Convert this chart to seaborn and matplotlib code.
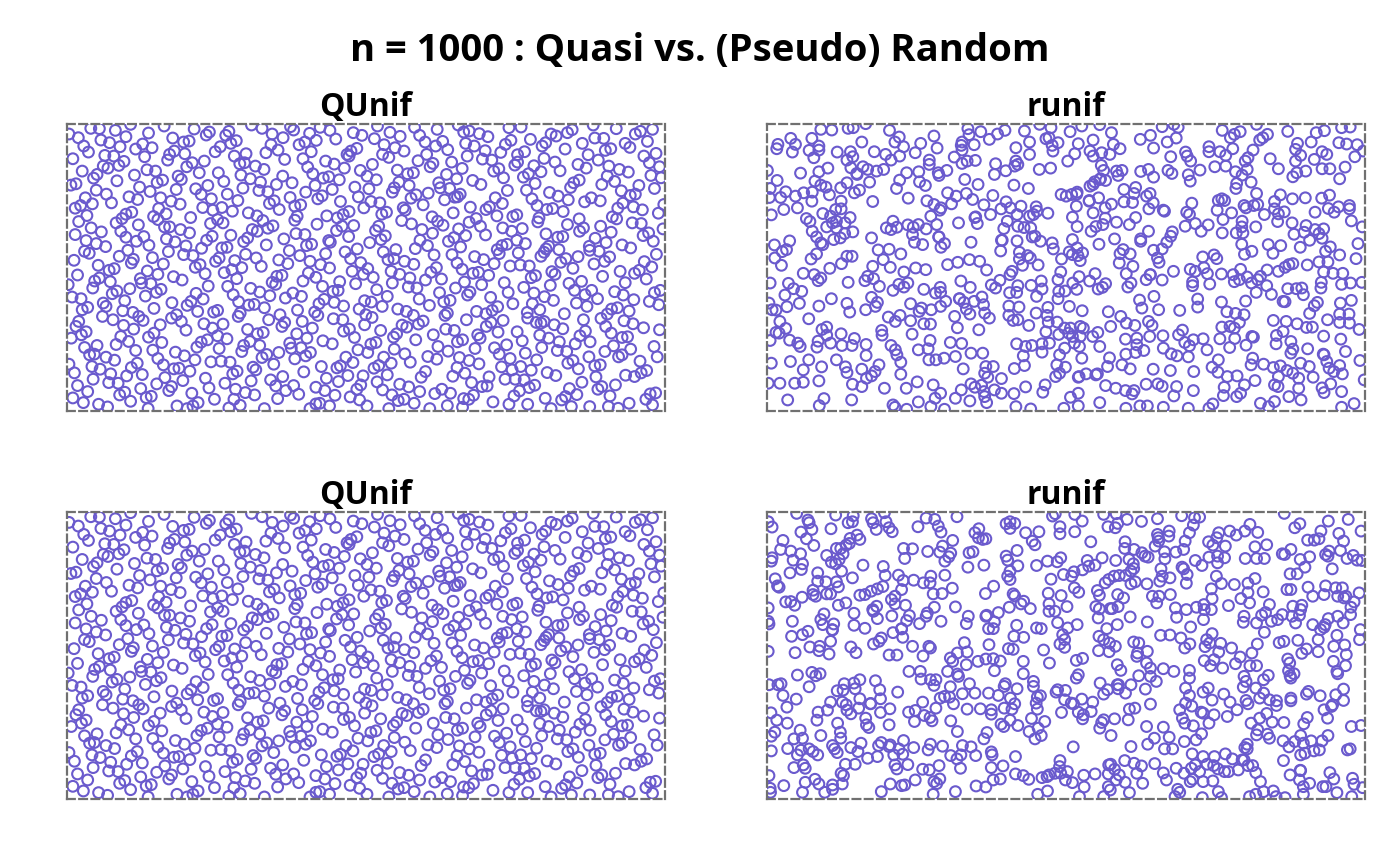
import pandas as pd
import matplotlib
matplotlib.use("Agg")
import matplotlib.pyplot as plt
import seaborn as sns

# Points, no axis scale is shown there,
# so values are in the read-off units (x 17..1550, y 14..872, y going down)
qunif_pts = [
(22,44),(46,55),(78,27),(100,28),(141,33),(168,52),(180,15),(226,41),(266,20),(288,56),(343,29),(382,38),(374,47),(432,36),(424,48),(490,17),(517,27),(543,44),(571,55),(598,32),(590,22),(639,42),(666,24),(691,33),(706,59),(751,40),(773,48),(813,20),(845,39),(871,51),(908,24),(921,48),(966,30),(1020,17),(1034,38),(1048,35),(1074,43),(1096,52),(1150,25),(1181,23),(1205,60),(1258,44),(1271,50),(1300,40),(1312,31),(1366,17),(1370,56),(1393,57),(1425,28),(1474,44),(1487,36),(1518,30),
(60,80),(72,98),(104,62),(126,70),(153,82),(114,108),(137,110),(193,89),(211,74),(235,85),(216,112),(292,95),(280,105),(319,103),(316,68),(330,65),(397,97),(410,82),(437,72),(451,64),(446,110),(476,103),(527,100),(540,76),(558,92),(612,76),(627,68),(656,63),(643,97),(622,118),(740,110),(745,95),(760,87),(735,105),(805,58),(830,76),(858,85),(881,95),(826,105),(842,114),(939,105),(935,68),(962,80),(980,66),(993,91),(1039,72),(1061,80),(1043,110),(1089,94),(1082,119),(1106,122),(1129,99),(1141,75),(1155,63),(1172,106),(1190,97),(1235,80),(1244,70),(1294,89),(1240,117),(1338,72),(1353,106),(1397,93),(1411,88),(1379,122),(1448,72),(1460,84),(1505,66),(1496,110),(1527,102),
(32,118),(56,155),(110,140),(122,146),(150,138),(163,126),(94,165),(222,151),(244,155),(190,167),(275,122),(338,130),(324,142),(369,125),(356,160),(405,160),(460,133),(472,130),(500,140),(522,150),(575,120),(634,143),(647,163),(680,125),(702,134),(728,146),(769,153),(800,135),(786,170),(864,152),(890,163),(905,160),(917,124),(955,132),(948,142),(1003,128),(1030,147),(990,165),(1111,155),(1124,148),(1165,137),(1172,128),(1214,139),(1200,163),(1232,157),(1268,128),(1281,154),(1327,135),(1348,146),(1406,140),(1433,150),(1456,158),(1510,130),(1536,142),
(85,176),(40,193),(27,197),(145,184),(92,212),(118,224),(203,203),(230,216),(248,189),(262,182),(302,170),(310,180),(297,210),(347,208),(378,198),(361,225),(419,186),(428,224),(463,167),(487,178),(513,188),(468,206),(509,213),(532,217),(554,195),(570,170),(594,190),(629,218),(653,198),(674,176),(688,172),(715,181),(697,210),(755,203),(791,208),(810,181),(764,232),(851,218),(856,205),(868,188),(894,198),(912,226),(943,221),(970,190),(974,205),(998,207),(1016,178),(1025,224),(1011,233),(1057,183),(1078,195),(1136,175),(1146,213),(1187,173),(1195,212),(1217,192),(1254,219),(1276,230),(1308,204),(1316,190),(1330,182),(1388,195),(1402,170),(1421,186),(1438,214),(1483,198),(1514,168),(1523,207),(1540,175),
(64,235),(52,258),(38,266),(82,253),(131,250),(176,232),(198,240),(257,235),(284,245),(307,254),(252,267),(183,278),(168,284),(158,297),(239,291),(271,283),(334,294),(365,264),(387,238),(391,272),(414,264),(441,275),(455,243),(482,280),(504,289),(536,252),(548,244),(561,270),(589,234),(601,260),(616,256),(607,290),(660,238),(671,229),(718,246),(683,289),(740,276),(725,285),(710,295),(778,265),(796,246),(819,250),(836,278),(824,284),(879,265),(884,272),(899,236),(930,256),(985,241),(1007,280),(1018,232),(1051,263),(1100,262),(1091,270),(1115,235),(1133,252),(1119,289),(1160,291),(1170,286),(1209,238),(1222,258),(1247,270),(1262,267),(1289,276),(1302,241),(1344,247),(1361,235),(1384,244),(1429,266),(1442,251),(1469,262),(1461,228),(1474,224),(1492,271),(1533,281),(1547,255),
(68,288),(47,306),(79,325),(105,337),(38,345),(143,310),(155,335),(200,316),(214,351),(250,300),(267,322),(280,322),(308,330),(331,340),(385,312),(403,300),(417,310),(437,347),(492,330),(505,335),(519,303),(532,326),(545,319),(601,302),(658,314),(604,342),(627,345),(708,333),(722,320),(752,318),(739,351),(808,333),(816,320),(833,349),(875,303),(900,313),(927,330),(953,292),(967,305),(981,317),(1021,328),(1048,308),(1066,297),(1077,320),(1090,346),(954,341),(1134,325),(1157,335),(1184,327),(1227,295),(1224,307),(1245,343),(1300,315),(1330,298),(1331,335),(1341,325),(1385,320),(1415,292),(1426,298),(1412,338),(1466,310),(1489,312),(1494,348),(1508,340),(1545,328),
(66,363),(92,372),(116,381),(62,395),(74,401),(168,353),(195,365),(227,377),(173,392),(151,410),(272,358),(294,367),(277,396),(322,379),(316,405),(340,408),(375,362),(389,350),(362,386),(414,385),(427,383),(407,415),(470,366),(480,355),(528,376),(573,358),(587,393),(614,408),(631,378),(644,374),(688,363),(692,368),(680,402),(730,397),(761,388),(744,417),(793,369),(822,360),(828,397),(860,390),(910,387),(922,362),(941,378),(958,406),(995,365),(1009,354),(1039,348),(1026,382),(1004,405),(1062,411),(1120,390),(1132,378),(1145,374),(1125,402),(1170,362),(1192,372),(1174,400),(1252,380),(1245,388),(1232,410),(1240,398),(1275,353),(1288,351),(1278,390),(1327,411),(1356,380),(1357,392),(1371,356),(1399,369),(1381,395),(1408,412),(1440,376),(1462,385),(1520,365),(1528,404),
(35,422),(97,437),(44,466),(125,452),(138,447),(100,475),(187,419),(182,430),(236,414),(264,433),(223,454),(250,464),(205,477),(290,471),(346,443),(358,435),(371,462),(398,425),(440,450),(447,423),(465,444),(420,459),(475,404),(502,415),(515,440),(560,421),(583,432),(568,467),(555,470),(636,460),(640,425),(667,435),(690,445),(655,473),(748,455),(770,429),(788,447),(777,464),(802,473),(848,455),(840,420),(855,417),(882,425),(906,434),(870,464),(896,475),(950,458),(964,444),(977,478),(1017,430),(1030,449),(1058,461),(1072,458),(1098,467),(1085,420),(1112,432),(1153,439),(1179,436),(1202,439),(1218,468),(1207,474),(1260,456),(1268,464),(1283,428),(1296,417),(1314,446),(1368,433),(1395,425),(1390,470),(1435,455),(1472,461),(1484,452),(1497,426),(1516,442),
(20,495),(88,484),(83,505),(128,486),(208,490),(232,492),(312,481),(379,499),(178,507),(145,514),(133,522),(246,518),(258,509),(218,529),(348,521),(452,477),(429,500),(443,525),(488,506),(511,517),(537,528),(543,488),(552,494),(622,484),(596,520),(618,530),(672,500),(699,515),(712,512),(716,486),(757,492),(811,510),(838,530),(851,490),(892,502),(914,505),(936,481),(972,519),(1013,505),(1036,487),(1080,495),(1050,517),(1044,526),(1138,489),(1148,518),(1188,503),(1214,520),(1256,497),(1304,491),(1318,512),(1336,485),(1345,525),(1362,512),(1421,516),(1448,489),(1443,526),(1502,478),(1510,545),(1523,519),(1538,512),
(30,532),(53,537),(110,550),(117,560),(70,563),(56,570),(165,543),(160,573),(186,578),(201,590),(240,566),(286,549),(325,557),(335,545),(366,538),(352,575),(393,577),(403,572),(457,546),(483,556),(497,554),(523,564),(461,580),(456,590),(577,535),(563,585),(608,571),(652,577),(660,587),(663,552),(676,539),(702,548),(726,559),(766,568),(780,543),(797,547),(825,560),(783,585),(799,593),(865,568),(887,575),(905,587),(920,538),(946,557),(983,546),(999,542),(992,580),(986,587),(1103,533),(1067,575),(1091,582),(1107,572),(1121,561),(1160,552),(1197,578),(1210,552),(1229,570),(1241,531),(1264,542),(1292,582),(1323,550),(1350,560),(1377,537),(1413,568),(1428,564),(1402,583),(1458,574),(1470,540),(1534,555),
(108,590),(135,600),(47,605),(40,620),(66,636),(28,655),(54,645),(162,617),(188,628),(212,602),(256,615),(240,640),(226,652),(285,595),(298,585),(310,605),(322,631),(368,612),(390,625),(417,613),(403,648),(427,657),(480,629),(505,642),(520,638),(534,600),(568,620),(575,608),(620,605),(606,642),(632,655),(646,625),(700,597),(724,600),(726,634),(741,628),(754,653),(780,615),(821,632),(854,652),(862,642),(876,616),(888,622),(918,613),(930,604),(911,660),(956,645),(988,628),(1010,632),(1041,600),(1070,645),(1076,655),(1092,620),(1104,608),(1135,602),(1122,637),(1171,636),(1198,595),(1220,608),(1232,610),(1240,605),(1229,646),(1252,655),(1266,615),(1288,627),(1341,600),(1346,634),(1332,648),(1386,596),(1398,620),(1412,640),(1445,603),(1468,612),(1495,624),(1536,630),(1440,653),(1454,651),
(155,650),(175,665),(143,674),(94,677),(62,683),(75,705),(87,703),(193,692),(260,668),(237,691),(295,697),(318,708),(350,682),(361,667),(377,660),(407,686),(470,677),(486,665),(511,677),(465,695),(560,698),(588,670),(592,685),(617,684),(641,698),(629,708),(673,663),(697,672),(763,690),(788,698),(796,673),(809,668),(856,688),(883,702),(968,680),(994,694),(1018,666),(1031,660),(1063,686),(1113,684),(1125,703),(1144,675),(1184,663),(1192,700),(1234,683),(1274,692),(1279,666),(1298,695),(1320,672),(1358,666),(1396,695),(1418,678),(1462,688),(1522,680),
(117,712),(139,721),(81,740),(102,748),(197,730),(182,743),(250,716),(264,735),(291,747),(304,745),(345,720),(332,754),(386,726),(412,724),(435,727),(442,762),(453,754),(494,742),(501,750),(517,713),(529,704),(547,733),(601,717),(624,756),(669,740),(709,744),(718,738),(732,712),(750,728),(804,745),(816,737),(829,712),(848,730),(897,727),(942,710),(965,718),(936,755),(925,772),(1017,743),(1023,713),(1048,722),(1073,732),(1037,760),(1131,741),(1153,716),(1158,750),(1180,740),(1207,751),(1221,720),(1248,758),(1301,730),(1314,722),(1328,747),(1355,711),(1370,738),(1384,735),(1431,711),(1440,705),(1486,724),(1530,711),(1503,752),(1489,759),(1472,770),
(36,759),(22,733),(84,778),(129,762),(124,788),(148,790),(170,768),(210,764),(44,797),(70,815),(32,834),(59,848),(98,853),(121,861),(206,806),(247,792),(268,773),(285,800),(278,812),(314,782),(372,775),(381,804),(422,790),(489,783),(539,780),(570,770),(552,798),(598,797),(449,808),(337,820),(395,838),(152,825),(165,817),(180,844),(220,833),(233,829),(225,866),(299,858),(353,848),(340,858),(325,866),(445,838),(474,818),(498,825),(461,856),(432,864),(523,866),(557,836),(578,812),(611,823),(655,802),(678,812),(704,826),(682,775),(713,785),(737,767),(776,768),(770,795),(760,808),(743,831),(767,840),(786,858),(812,786),(826,810),(838,765),(870,793),(893,801),(921,815),(850,825),(866,842),(881,838),(907,850),(842,866),(947,866),(960,821),(978,808),(1000,820),(1006,769),(1054,788),(1034,836),(1059,826),(1047,838),(1081,800),(1094,798),(1099,771),(1109,846),(1031,862),(992,857),(1140,778),(1166,778),(1189,780),(1216,796),(1202,803),(1177,813),(1163,828),(1150,853),(1198,853),(1243,835),(1270,767),(1305,806),(1324,824),(1295,830),(1285,840),(1337,787),(1373,771),(1388,800),(1378,808),(1423,795),(1449,766),(1409,828),(1458,850),(1512,822),(1526,819),(1501,838),(1518,855),(1405,860),(1430,865),(1357,860),(1310,860),(1258,866),(640,866),(655,852),(665,850),(690,858),
]

runif_top_pts = [
(155,30),(183,32),(225,27),(238,25),(270,13),(331,33),(356,53),(445,50),(532,28),(535,46),(565,37),(608,44),(627,33),(677,35),(716,15),(745,25),(740,55),(732,58),(794,37),(824,20),(870,16),(900,40),(1000,48),(974,60),(1030,22),(1060,15),(1071,24),(1066,56),(1184,33),(1230,37),(1215,45),(1205,55),(1272,15),(1300,45),(1288,55),(1352,36),(1425,40),(1446,34),(1490,25),(1512,23),(78,57),(132,57),(45,75),
(42,88),(90,75),(150,80),(125,93),(150,92),(82,98),(137,115),(197,98),(231,97),(260,68),(345,68),(367,82),(292,97),(321,105),(237,112),(222,122),(357,110),(335,122),(411,72),(397,100),(453,86),(517,68),(515,78),(517,92),(497,113),(548,76),(587,60),(655,85),(690,68),(690,105),(750,95),(763,70),(748,78),(815,73),(806,103),(788,125),(853,62),(845,95),(853,110),(875,100),(896,105),(905,75),(922,88),(1008,86),(1043,68),(1052,112),(1090,98),(1094,110),(1103,125),(1150,82),(1150,97),(1178,97),(1193,108),(1211,88),(1263,92),(1250,115),(1243,125),(1280,62),(1307,118),(1377,72),(1372,90),(1385,108),(1372,125),(1412,68),(1420,120),(1440,97),(1452,105),(1483,70),(1503,74),(1530,76),(1524,112),(1546,95),
(18,153),(103,161),(150,157),(173,146),(43,183),(140,185),(232,145),(247,162),(263,142),(275,150),(298,155),(316,150),(375,160),(406,157),(433,122),(433,135),(456,160),(458,168),(478,153),(517,132),(530,125),(551,123),(603,133),(600,165),(629,154),(655,125),(652,140),(660,135),(715,150),(744,146),(874,138),(880,153),(872,178),(857,187),(913,155),(927,153),(917,168),(975,156),(995,150),(1045,153),(1055,162),(1008,173),(1097,166),(1127,152),(1102,185),(1165,142),(1193,140),(1218,157),(1235,167),(1248,150),(1258,188),(1328,148),(1365,172),(1375,160),(1398,155),(1440,148),(1460,148),(1499,143),(1485,178),(524,180),(357,182),(280,188),(248,165),
(25,207),(65,217),(52,234),(90,230),(111,220),(133,218),(155,197),(168,203),(177,226),(206,205),(222,190),(241,220),(254,212),(23,234),(349,207),(379,236),(408,187),(423,198),(480,220),(502,230),(528,222),(544,240),(558,195),(596,228),(650,197),(687,207),(630,247),(771,225),(784,230),(798,225),(812,218),(811,224),(845,200),(853,195),(870,180),(885,183),(932,210),(962,204),(990,230),(999,222),(843,243),(867,235),(958,222),(1219,207),(1221,192),(1272,222),(1183,238),(1190,243),(1333,226),(1318,246),(1364,238),(1397,235),(1439,236),(1459,227),(1174,243),(132,245),(207,245),(288,246),(427,244),(445,255),
(60,270),(95,265),(28,286),(160,282),(193,270),(207,268),(180,290),(118,297),(230,294),(195,305),(340,305),(437,290),(463,265),(460,272),(490,253),(573,256),(590,285),(550,294),(617,268),(641,265),(668,260),(658,285),(707,262),(709,275),(690,290),(700,285),(737,281),(633,305),(810,260),(800,293),(843,245),(853,280),(884,265),(900,254),(884,296),(932,247),(954,249),(996,268),(1007,250),(1033,272),(1036,275),(962,294),(1093,278),(1100,285),(1106,251),(1171,272),(1208,280),(1186,300),(1240,258),(1245,265),(1265,258),(1275,255),(1292,285),(1318,268),(1328,283),(1343,277),(1422,278),(1456,267),(1471,278),(1482,262),(1510,268),(1510,258),(1235,305),
(127,306),(133,335),(144,352),(170,322),(185,310),(195,325),(217,310),(216,342),(237,337),(188,360),(205,355),(285,355),(323,325),(335,330),(350,323),(378,316),(392,323),(405,315),(390,345),(425,328),(452,315),(508,310),(552,292),(556,312),(457,352),(624,327),(620,362),(660,320),(676,324),(693,325),(704,350),(697,352),(812,321),(848,335),(860,321),(878,315),(913,308),(946,315),(995,335),(1056,337),(1052,350),(1089,320),(1115,312),(1130,335),(1148,316),(1184,340),(1234,322),(1270,322),(1220,340),(1237,340),(1326,306),(1363,310),(1399,318),(1368,344),(1394,338),(1432,342),(1444,328),(1515,304),(1543,322),(1422,330),
(36,376),(75,364),(67,390),(56,396),(144,403),(155,370),(160,375),(37,415),(130,418),(222,410),(235,410),(302,391),(330,389),(360,403),(458,352),(395,368),(416,375),(463,383),(472,372),(540,368),(618,362),(658,364),(616,394),(664,398),(718,365),(748,370),(751,388),(685,408),(692,415),(772,418),(792,397),(800,360),(812,385),(826,400),(800,405),(814,408),(868,374),(908,358),(975,365),(1030,388),(1042,368),(1008,392),(930,390),(922,402),(948,403),(1134,412),(1163,406),(1241,404),(1234,374),(1260,395),(1302,375),(1334,378),(1314,401),(1384,383),(1408,362),(1440,356),(1461,382),(1449,395),(1485,406),(1532,372),(1527,417),(975,358),
(54,437),(208,432),(178,446),(288,440),(315,420),(333,443),(368,457),(398,445),(424,450),(480,435),(506,428),(536,420),(562,425),(580,451),(640,465),(645,455),(672,437),(712,436),(664,418),(770,457),(820,423),(920,430),(955,440),(938,462),(1022,428),(1018,415),(1059,455),(1000,465),(1102,449),(1115,455),(1137,444),(1146,462),(1182,463),(1170,417),(1231,449),(1212,465),(1248,472),(1299,451),(1282,470),(1275,480),(1328,455),(1345,443),(1355,435),(1365,432),(1402,436),(1432,427),(1455,427),(1444,457),(1468,461),(1493,461),(110,461),(138,465),(155,475),(148,483),(72,491),(275,470),(268,483),(290,477),
(25,490),(85,507),(106,515),(63,526),(182,537),(225,488),(305,500),(378,490),(355,494),(368,502),(340,512),(285,533),(419,509),(449,520),(462,518),(461,503),(514,484),(538,503),(510,537),(568,532),(592,496),(603,505),(614,482),(660,498),(694,497),(720,484),(722,508),(639,519),(657,518),(708,530),(763,480),(801,490),(817,471),(844,484),(858,462),(811,509),(866,508),(877,503),(885,492),(942,502),(950,490),(989,480),(999,465),(1030,481),(1009,530),(1108,498),(1108,487),(1152,493),(1215,486),(1228,480),(1259,490),(1271,518),(1298,498),(1310,524),(1352,507),(1374,507),(1388,505),(1392,525),(1437,505),(1438,488),(1490,494),(1513,490),(1542,488),(765,515),(781,514),(763,537),
(22,550),(30,570),(40,571),(68,561),(100,551),(150,559),(222,551),(229,577),(270,570),(300,548),(295,560),(385,552),(413,565),(407,575),(438,570),(462,560),(475,545),(511,537),(522,548),(548,545),(572,555),(528,568),(575,580),(637,559),(663,562),(707,580),(737,563),(735,587),(792,560),(825,573),(892,576),(924,590),(972,541),(978,565),(1021,570),(1075,572),(1121,538),(1121,562),(1182,547),(1196,576),(1218,581),(1240,585),(1244,544),(1340,545),(1345,546),(1420,558),(1428,548),(1408,581),(1487,550),(1515,542),(1485,583),(1509,583),(124,597),(50,605),(358,587),(328,592),(346,605),(385,603),(498,590),(537,583),(587,595),(637,587),(648,602),(660,600),
(65,626),(40,638),(48,640),(25,662),(158,629),(170,622),(207,642),(170,646),(311,632),(312,646),(389,643),(419,612),(436,613),(505,624),(560,630),(688,617),(738,607),(761,607),(732,636),(780,625),(795,625),(820,620),(828,625),(765,644),(790,640),(800,650),(820,650),(865,638),(852,650),(898,620),(938,610),(960,617),(995,605),(1004,617),(998,650),(1032,648),(1082,631),(1072,645),(1183,622),(1204,620),(1215,625),(1228,608),(1264,652),(1315,602),(1323,647),(1348,605),(1376,612),(1400,623),(1415,622),(1454,600),(1485,608),(1510,610),(1535,629),(1444,649),(1488,658),(1340,635),
(75,661),(96,670),(102,680),(148,664),(145,682),(180,670),(209,677),(235,677),(241,656),(271,674),(271,707),(335,677),(346,690),(350,705),(405,690),(430,687),(435,662),(487,668),(516,671),(500,710),(540,700),(570,700),(657,672),(680,680),(696,677),(722,672),(741,670),(722,697),(780,685),(805,670),(818,680),(870,680),(936,658),(965,655),(965,675),(937,703),(962,698),(983,692),(1033,685),(1053,702),(1088,668),(1100,678),(1110,660),(1135,657),(1145,690),(1178,657),(1203,683),(1216,656),(1245,676),(1260,650),(1322,672),(1360,665),(1365,688),(1403,687),(1443,703),(1500,695),(767,705),(1068,708),(1097,711),(1360,700),
(28,730),(77,725),(124,720),(110,750),(157,741),(195,720),(218,741),(222,758),(260,748),(304,735),(294,755),(285,768),(272,775),(360,727),(432,720),(450,720),(471,715),(360,763),(520,747),(578,740),(597,740),(575,760),(583,772),(651,746),(677,737),(674,708),(824,715),(760,735),(782,742),(767,760),(757,770),(817,770),(835,762),(860,765),(864,762),(895,714),(890,740),(927,735),(948,747),(1007,748),(1051,752),(1111,755),(1158,742),(1174,720),(1173,757),(1197,770),(1222,768),(1262,715),(1258,735),(1290,733),(1315,743),(1333,738),(1350,752),(1328,770),(1365,760),(1385,730),(1407,740),(1417,772),(1445,705),(1452,725),(1485,737),(1470,755),(1492,762),(1537,722),(1458,745),(1380,775),
(20,790),(50,790),(88,790),(110,787),(150,783),(236,793),(260,800),(318,805),(374,805),(402,786),(443,795),(515,810),(540,792),(550,802),(567,796),(573,815),(600,810),(618,776),(618,820),(650,821),(680,801),(724,817),(730,795),(815,772),(885,797),(911,805),(936,812),(958,812),(953,822),(989,793),(1019,792),(1030,799),(1067,800),(1060,828),(1110,812),(1189,802),(1187,827),(1221,830),(1231,820),(1241,795),(1268,782),(1318,795),(1327,800),(1355,830),(1380,805),(1386,840),(1440,804),(1445,818),(1462,792),(1490,815),(1548,780),(70,840),(163,836),(151,857),(234,840),(340,855),(345,862),(375,868),(405,846),(437,860),(472,868),(462,820),(448,835),(500,835),(537,843),(580,848),(655,860),(693,867),(778,865),(795,832),(815,820),(815,858),(870,848),(937,865),(973,858),(992,858),(1033,862),(1097,865),(1150,865),(1160,852),(1282,850),(1303,860),(1318,845),(1490,862),(1522,851),(575,830),
]

runif_bottom_pts = [
(93,17),(122,37),(125,45),(132,65),(193,22),(181,63),(225,45),(236,42),(238,24),(285,33),(289,45),(297,65),(318,15),(322,42),(330,60),(338,72),(30,58),(20,42),(404,57),(425,31),(447,35),(456,55),(463,73),(504,27),(560,63),(550,75),(630,48),(640,42),(652,47),(640,62),(749,25),(768,57),(756,18),(806,20),(825,40),(806,72),(768,78),(714,72),(680,75),(880,20),(891,57),(912,18),(916,47),(910,60),(940,35),(977,41),(1018,33),(1048,70),(1080,24),(1113,30),(1126,28),(1110,52),(1100,75),(1203,70),(1242,70),(1255,50),(1275,74),(1343,17),(1370,60),(1383,48),(1437,70),(1456,40),(1507,35),(1540,70),(1483,77),
(104,73),(118,93),(58,98),(137,113),(52,125),(78,130),(255,95),(230,92),(228,107),(248,82),(195,122),(206,122),(220,112),(367,122),(390,123),(429,131),(460,133),(467,115),(493,98),(488,136),(559,90),(570,95),(578,93),(697,100),(704,111),(847,102),(935,102),(934,122),(958,125),(1018,80),(1020,90),(1012,115),(1047,85),(1021,100),(1089,100),(1085,125),(1065,133),(1149,102),(1160,112),(1175,75),(1170,90),(1192,115),(1220,82),(1268,117),(1298,111),(1403,97),(1420,97),(1432,93),(1495,100),(1360,125),(1487,128),
(30,150),(28,160),(103,138),(84,157),(108,168),(105,185),(76,195),(170,143),(182,163),(193,168),(212,138),(202,155),(263,172),(370,152),(315,176),(473,160),(483,147),(545,132),(535,135),(532,178),(573,172),(630,145),(634,157),(658,128),(660,174),(640,190),(708,173),(736,160),(761,162),(770,150),(838,158),(826,186),(842,175),(858,172),(876,150),(911,158),(945,155),(956,168),(978,135),(986,145),(994,148),(1036,132),(1037,153),(1027,183),(1081,178),(1085,183),(1115,158),(1132,173),(1150,148),(1172,145),(1172,165),(1190,150),(1243,152),(1272,152),(1292,152),(1338,138),(1344,140),(1384,155),(1408,147),(1396,178),(1449,140),(1455,145),(1466,183),(1504,152),(1520,143),(1530,157),(1542,158),(1458,130),
(147,195),(38,213),(44,234),(48,238),(147,220),(168,222),(195,222),(200,237),(208,190),(236,210),(320,203),(314,236),(354,202),(366,218),(393,217),(418,225),(437,205),(435,225),(473,202),(492,241),(598,235),(634,205),(640,215),(745,214),(777,200),(798,205),(804,192),(805,240),(884,225),(893,215),(907,205),(920,203),(936,203),(950,228),(961,222),(950,190),(957,182),(991,228),(1024,220),(1030,205),(1050,210),(1092,226),(1094,200),(1169,205),(1182,227),(1215,230),(1268,212),(1250,226),(1358,198),(1376,198),(1404,238),(1449,234),(1475,240),(1492,240),(1156,243),(1250,254),(1350,245),(1360,245),
(135,247),(135,260),(142,265),(180,258),(170,258),(107,268),(65,282),(78,281),(88,292),(255,262),(268,260),(284,250),(300,243),(362,245),(336,275),(345,265),(345,288),(372,292),(443,258),(466,257),(577,257),(500,297),(446,298),(648,258),(652,264),(675,280),(668,288),(692,302),(738,256),(771,263),(740,288),(786,296),(816,253),(869,262),(864,248),(916,260),(931,270),(860,296),(869,303),(897,302),(917,296),(1005,265),(1022,265),(1016,285),(1051,260),(1064,300),(1092,305),(1118,298),(1137,290),(1138,305),(1156,305),(1158,272),(1200,293),(1232,272),(1254,285),(1289,252),(1305,290),(1416,265),(1445,260),(1480,265),(1496,270),(1501,265),(1522,282),(1535,255),(1365,295),(1388,292),(1514,298),(200,292),(219,285),(298,295),(288,305),(638,298),(20,300),
(163,318),(155,335),(160,350),(188,348),(184,365),(240,316),(240,352),(290,310),(300,332),(337,324),(382,323),(375,338),(362,362),(408,347),(428,315),(425,325),(463,340),(528,347),(533,325),(580,322),(578,325),(610,314),(600,342),(585,362),(597,362),(740,310),(755,310),(762,344),(812,350),(788,360),(866,330),(902,302),(915,350),(948,327),(992,342),(1067,328),(1103,357),(1136,335),(1240,325),(1238,343),(1272,345),(1285,322),(1295,314),(1310,340),(1326,335),(1338,320),(1363,325),(1385,305),(1382,322),(1372,345),(1416,350),(1448,350),(1456,332),(1480,325),(1494,345),(1513,320),(1538,365),(82,340),(22,348),(657,352),(20,340),
(122,370),(108,380),(80,385),(185,366),(180,400),(268,361),(340,374),(362,363),(365,388),(310,390),(304,400),(290,408),(127,417),(152,415),(232,417),(390,415),(432,415),(523,404),(586,410),(650,385),(675,388),(708,360),(720,362),(775,380),(780,395),(768,408),(780,418),(888,362),(868,385),(880,395),(895,405),(910,415),(957,402),(970,405),(1026,382),(1050,381),(1078,390),(1101,408),(1088,420),(1158,377),(1144,395),(1152,405),(1140,416),(1180,406),(1208,420),(1274,408),(1292,373),(1330,404),(1342,400),(1378,397),(1430,395),(1436,365),(1445,358),(1478,382),(1470,415),(1498,411),(1536,395),(1260,435),(1400,423),
(20,430),(89,434),(150,428),(176,438),(245,434),(330,441),(350,441),(417,444),(436,420),(487,450),(493,460),(505,435),(530,432),(528,470),(558,460),(578,453),(597,452),(615,459),(636,422),(648,424),(674,460),(726,426),(741,465),(810,457),(826,451),(867,428),(894,431),(915,470),(924,487),(965,445),(992,430),(967,435),(990,465),(1000,480),(1033,482),(1060,490),(1100,487),(1138,458),(1154,473),(1175,432),(1163,455),(1185,480),(1218,467),(1230,447),(1255,473),(1272,473),(1352,453),(1357,465),(1354,488),(1368,497),(1388,436),(1430,431),(1469,460),(1502,440),(1500,473),(1360,510),(1480,497),
(22,530),(45,530),(53,527),(95,501),(132,493),(142,503),(153,497),(125,536),(215,527),(240,525),(255,515),(295,518),(381,490),(410,490),(412,513),(436,515),(450,515),(445,532),(480,490),(505,498),(508,505),(536,527),(600,488),(628,527),(625,535),(674,497),(700,520),(700,535),(810,510),(815,500),(871,525),(915,530),(950,530),(970,503),(1000,505),(1015,520),(917,542),(1100,510),(1090,540),(1148,540),(1240,505),(1245,520),(1238,537),(1290,515),(1302,502),(1270,540),(1478,490),(1358,503),
(58,562),(92,573),(197,548),(212,546),(243,542),(306,545),(308,572),(255,572),(352,552),(210,582),(220,590),(180,582),(282,587),(416,582),(461,570),(472,565),(487,536),(485,567),(495,587),(518,557),(550,555),(585,555),(610,562),(641,570),(658,542),(652,587),(645,603),(710,567),(718,563),(707,585),(762,545),(758,552),(782,547),(780,575),(797,585),(803,587),(824,573),(852,582),(880,558),(890,545),(918,530),(936,555),(987,543),(1000,588),(1100,562),(1090,585),(1106,594),(1135,552),(1158,576),(1188,558),(1204,582),(1245,577),(1250,587),(1280,570),(1290,555),(1305,575),(1323,578),(1323,592),(1360,570),(1360,578),(1405,550),(1400,558),(1435,563),(1475,560),(1495,543),(1467,590),(1495,577),(68,597),
(27,614),(148,612),(172,606),(222,606),(252,600),(232,617),(283,586),(332,602),(308,613),(145,636),(42,636),(69,645),(380,612),(397,607),(395,640),(420,622),(450,600),(435,628),(440,638),(488,638),(530,603),(564,602),(592,605),(592,618),(625,600),(617,648),(640,636),(624,655),(660,652),(710,603),(695,631),(729,640),(772,613),(815,612),(828,620),(848,610),(826,632),(880,635),(875,643),(908,632),(943,635),(946,603),(960,600),(1075,605),(1082,630),(1088,645),(1110,653),(1130,612),(1135,615),(1163,620),(1197,625),(1150,645),(1222,605),(1258,645),(1280,630),(1298,616),(1312,642),(1342,643),(1402,628),(1393,647),(1454,630),(1445,605),(1464,595),(270,630),(272,650),(278,658),(330,650),(198,645),
(102,666),(37,672),(28,684),(86,692),(108,690),(155,682),(205,672),(206,690),(258,705),(367,697),(310,703),(303,712),(333,710),(505,670),(581,673),(573,692),(689,670),(712,660),(720,682),(704,692),(870,660),(899,682),(990,655),(1033,657),(1048,687),(1010,690),(993,708),(1087,700),(1117,695),(1131,677),(1275,665),(1272,680),(1300,678),(1305,690),(1340,698),(1370,700),(1385,682),(1392,705),(1412,698),(1440,698),(1455,682),(1515,655),(1540,652),(1248,708),(1242,718),(950,715),(802,716),
(28,728),(70,721),(104,726),(125,722),(135,730),(147,740),(95,740),(185,712),(190,722),(197,733),(232,718),(250,730),(275,750),(300,745),(330,715),(355,722),(342,740),(365,738),(393,718),(430,725),(436,708),(467,714),(518,712),(540,716),(488,742),(514,740),(504,752),(552,742),(592,731),(594,740),(654,745),(768,757),(1036,722),(1057,722),(1107,737),(1135,745),(1164,745),(1192,737),(1210,752),(1235,755),(1248,722),(1355,716),(1385,740),(1396,735),(1419,728),(1433,725),(1505,725),(1512,722),(1341,757),(86,778),(110,770),(115,780),(218,768),(243,768),(345,770),(378,769),(350,782),(458,772),(416,783),(433,785),(513,780),(592,778),(622,773),(767,775),(898,768),(934,757),(958,765),(977,773),(1011,766),(1066,780),(1115,770),(1105,780),(1145,768),(1162,772),(1173,782),(1240,755),(1250,772),(1262,772),(1385,787),
(22,802),(25,840),(26,852),(60,832),(108,852),(115,822),(140,813),(150,827),(165,852),(185,830),(185,843),(207,795),(210,827),(213,802),(310,850),(333,827),(362,832),(370,830),(397,815),(443,858),(445,820),(452,826),(460,812),(500,850),(553,833),(578,836),(597,815),(615,812),(654,797),(674,802),(688,813),(722,808),(735,805),(740,800),(755,795),(770,795),(787,790),(782,815),(800,823),(736,848),(711,858),(829,801),(830,836),(818,865),(858,797),(893,770),(892,797),(908,783),(920,800),(935,822),(912,815),(892,835),(897,845),(880,865),(946,853),(965,795),(980,825),(1033,794),(1041,815),(1070,843),(1075,852),(1063,865),(1086,795),(1102,820),(1108,813),(1126,790),(1135,820),(1160,818),(1174,850),(1133,868),(1182,868),(1190,790),(1200,790),(1225,785),(1270,793),(1282,820),(1254,865),(1270,858),(1290,850),(1315,848),(1322,865),(1358,800),(1384,786),(1382,815),(1408,825),(1392,835),(1392,858),(1442,835),(1450,835),(1460,793),(1470,812),(1518,810),(1522,828),(1544,838),(1516,865),(1345,868),(1478,853),
]

panel_titles = ["QUnif", "runif", "QUnif", "runif"]
# the two QUnif panels in the picture show the same points
panel_pts = [qunif_pts, runif_top_pts, qunif_pts, runif_bottom_pts]

sns.set_theme(style="white")
plt.rcParams["font.family"] = ["Open Sans", "DejaVu Sans"]

fig, axes = plt.subplots(2, 2, figsize=(14, 8.66), dpi=100)
fig.subplots_adjust(left=67/1400, right=1365/1400, top=1-124/866, bottom=1-799/866,
                    wspace=0.1706, hspace=0.355)

for ax, name, pts in zip(axes.flat, panel_titles, panel_pts):
    df = pd.DataFrame(pts, columns=["x", "y"])
    sns.scatterplot(data=df, x="x", y="y", ax=ax, marker="o", s=60,
                    facecolor="none", edgecolor="#6A5ACD", linewidth=1.5)
    ax.set_xlim(17, 1550)
    ax.set_ylim(872, 14)
    ax.set_xticks([])
    ax.set_yticks([])
    ax.set_xlabel("")
    ax.set_ylabel("")
    ax.set_title(name, fontsize=23, fontweight="bold", color="black", pad=1)
    for spine in ax.spines.values():
        spine.set_linestyle((0, (3.5, 2)))
        spine.set_color("#707070")
        spine.set_linewidth(1.6)

fig.suptitle("n = 1000 : Quasi vs. (Pseudo) Random", fontsize=27.5, fontweight="bold",
             color="black", x=0.5, y=1-51/866, va="center")

plt.savefig("out.png", dpi=100)
plt.close()
